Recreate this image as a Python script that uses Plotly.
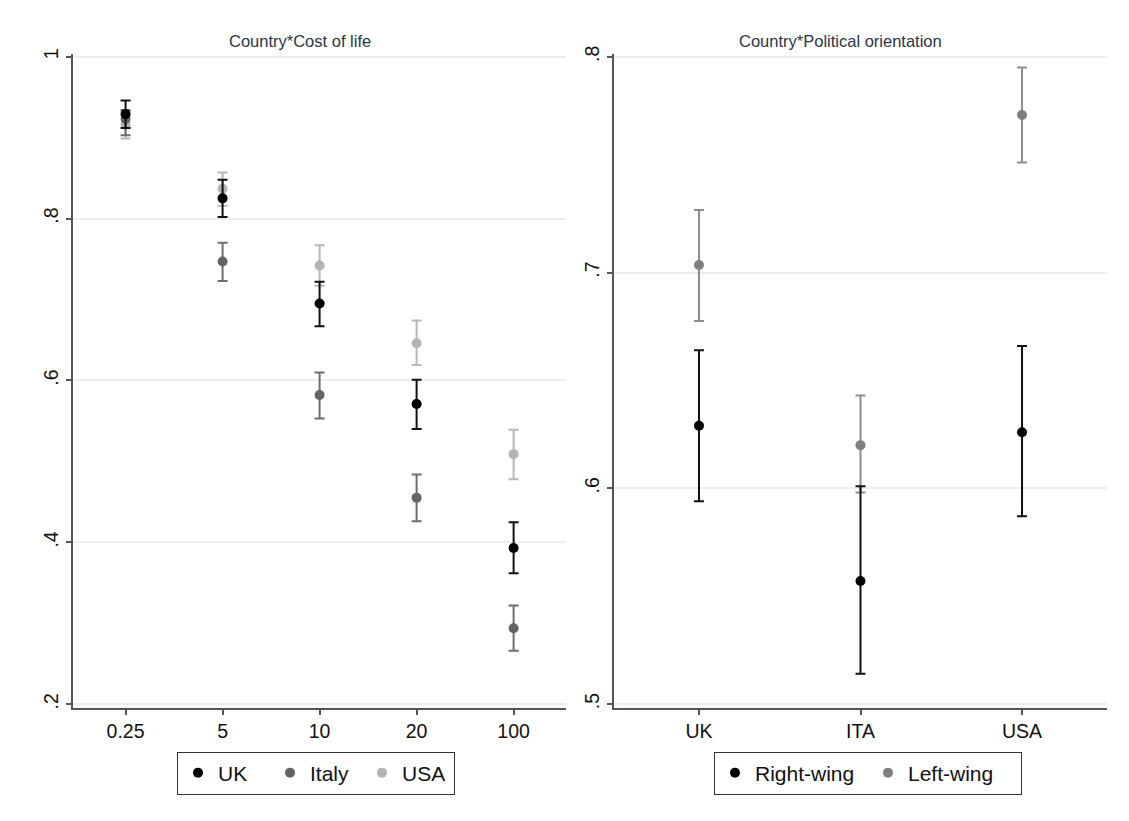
import plotly.graph_objects as go

# ---------------- Data ----------------
cost_levels = ["0.25", "5", "10", "20", "100"]

uk_mean = [0.929, 0.825, 0.695, 0.571, 0.393]
uk_lo = [0.912, 0.802, 0.667, 0.540, 0.362]
uk_hi = [0.946, 0.848, 0.722, 0.601, 0.425]

italy_mean = [0.923, 0.747, 0.582, 0.455, 0.294]
italy_lo = [0.903, 0.723, 0.553, 0.426, 0.266]
italy_hi = [0.934, 0.770, 0.610, 0.484, 0.322]

usa_mean = [0.916, 0.837, 0.742, 0.646, 0.509]
usa_lo = [0.899, 0.816, 0.717, 0.619, 0.478]
usa_hi = [0.932, 0.857, 0.767, 0.674, 0.539]

countries = ["UK", "ITA", "USA"]
right_mean = [0.629, 0.557, 0.626]
right_lo = [0.594, 0.514, 0.587]
right_hi = [0.664, 0.601, 0.666]

left_mean = [0.7035, 0.620, 0.773]
left_lo = [0.6775, 0.598, 0.751]
left_hi = [0.729, 0.643, 0.795]

left_yticks = [0.2, 0.4, 0.6, 0.8, 1.0]
left_yticklabels = [".2", ".4", ".6", ".8", "1"]
right_yticks = [0.5, 0.6, 0.7, 0.8]
right_yticklabels = [".5", ".6", ".7", ".8"]

# ---------------- Figure ----------------
OFF = 8  # default page body margin
W, H = 1129 - OFF, 821 - OFF
FONT = "Liberation Sans, Arial, sans-serif"

fig = go.Figure()


def add_series(x, mean, lo, hi, name, mcolor, ecolor, xaxis, yaxis, legend):
    fig.add_trace(go.Scatter(
        x=x, y=mean, mode="markers", name=name,
        marker=dict(color=mcolor, size=10),
        error_y=dict(type="data", symmetric=False,
                     array=[h - m for h, m in zip(hi, mean)],
                     arrayminus=[m - l for m, l in zip(mean, lo)],
                     color=ecolor, thickness=2, width=5),
        xaxis=xaxis, yaxis=yaxis, legend=legend,
    ))


add_series(cost_levels, usa_mean, usa_lo, usa_hi, "USA", "#b4b4b4", "#b8b8b8", "x", "y", "legend")
add_series(cost_levels, italy_mean, italy_lo, italy_hi, "Italy", "#646464", "#6e6e6e", "x", "y", "legend")
add_series(cost_levels, uk_mean, uk_lo, uk_hi, "UK", "#000000", "#111111", "x", "y", "legend")

add_series(countries, left_mean, left_lo, left_hi, "Left-wing", "#7f7f7f", "#8c8c8c", "x2", "y2", "legend2")
add_series(countries, right_mean, right_lo, right_hi, "Right-wing", "#000000", "#111111", "x2", "y2", "legend2")


# helpers: page pixel -> paper fraction
def fx(px):
    return (px - OFF) / W


def fy(py):
    return 1 - (py - OFF) / H


axis_common = dict(showline=True, linecolor="#555555", linewidth=2,
                   ticks="outside", ticklen=5, tickwidth=1.5, tickcolor="#555555",
                   tickfont=dict(family=FONT, size=19.5, color="#111111"),
                   zeroline=False, automargin=False)

legend_common = dict(yanchor="middle", orientation="h",
                     bordercolor="#333333", borderwidth=1,
                     traceorder="reversed", itemwidth=30,
                     entrywidthmode="pixels",
                     font=dict(family=FONT, size=21, color="#111111"))

fig.update_layout(
    template="none",
    width=W, height=H,
    margin=dict(l=0, r=0, t=0, b=0, autoexpand=False),
    paper_bgcolor="white", plot_bgcolor="white",
    font=dict(family=FONT, size=17, color="#111111"),
    xaxis=dict(domain=[fx(72.7), fx(566)], type="category", categoryorder="array",
               categoryarray=cost_levels, range=[-0.545, 4.54], showgrid=False,
               anchor="y", **axis_common),
    yaxis=dict(domain=[fy(707.7), fy(54)], range=[0.1958, 1.0033],
               tickvals=left_yticks, ticktext=left_yticklabels, tickangle=-90,
               showgrid=True, gridcolor="#e8f0f2", gridwidth=1.5,
               anchor="x", **axis_common),
    xaxis2=dict(domain=[fx(614), fx(1107)], type="category", categoryorder="array",
                categoryarray=countries, range=[-0.526, 2.526], showgrid=False,
                anchor="y2", **axis_common),
    yaxis2=dict(domain=[fy(707.7), fy(54)], range=[0.4983, 0.8013],
                tickvals=right_yticks, ticktext=right_yticklabels, tickangle=-90,
                showgrid=True, gridcolor="#e8f0f2", gridwidth=1.5,
                anchor="x2", **axis_common),
    legend=dict(x=fx(177), y=fy(773), xanchor="left", entrywidth=47, **legend_common),
    legend2=dict(x=fx(714), y=fy(773), xanchor="left", entrywidth=108, **legend_common),
    showlegend=True,
)

fig.add_annotation(text="Country*Cost of life", x=fx(300), y=fy(41),
                   xref="paper", yref="paper", showarrow=False,
                   xanchor="center", yanchor="middle",
                   font=dict(family=FONT, size=16.5, color="#2b3545"))
fig.add_annotation(text="Country*Political orientation", x=fx(840), y=fy(41),
                   xref="paper", yref="paper", showarrow=False,
                   xanchor="center", yanchor="middle",
                   font=dict(family=FONT, size=16.5, color="#2b3545"))

fig.write_html("out.html")
